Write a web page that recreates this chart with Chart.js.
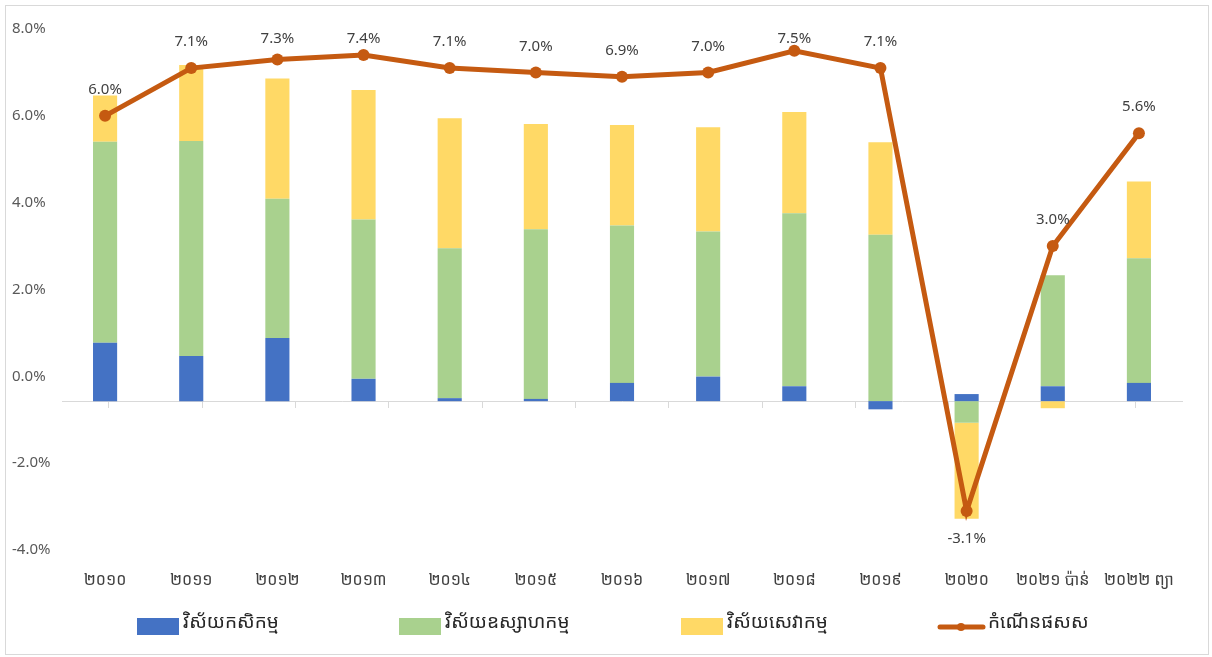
<!DOCTYPE html>
<html>
<head>
<meta charset="utf-8">
<script src="https://cdn.jsdelivr.net/npm/chart.js@4.4.1/dist/chart.umd.min.js"></script>
<style>
  body { margin: 0; background: #fff; }
  #wrap { position: relative; width: 1212px; height: 657px; }
  #frame { position: absolute; left: 5px; top: 5px; width: 1202px; height: 648px; border: 1px solid #d9d9d9; pointer-events: none; }
</style>
</head>
<body>
<div id="wrap">
  <canvas id="myChart" width="1212" height="657"></canvas>
  <div id="frame"></div>
</div>
<script>
const years = ["២០១០", "២០១១", "២០១២", "២០១៣", "២០១៤", "២០១៥", "២០១៦", "២០១៧", "២០១៨", "២០១៩", "២០២០", "២០២១ ប៉ាន់", "២០២២ ព្យា"];

// contribution to growth by sector (percentage points)
const agriculture = [1.57, 1.21, 1.70, 0.60, 0.08, 0.06, 0.49, 0.66, 0.40, -0.22, 0.19, 0.40, 0.49];
const industry    = [5.40, 5.78, 3.74, 4.28, 4.03, 4.56, 4.23, 3.90, 4.65, 4.47, -0.58, 2.98, 3.35];
const services    = [1.24, 2.04, 3.23, 3.48, 3.49, 2.83, 2.70, 2.80, 2.72, 2.49, -2.58, -0.19, 2.06];

// GDP growth
const gdpGrowth = [6.0, 7.1, 7.3, 7.4, 7.1, 7.0, 6.9, 7.0, 7.5, 7.1, -3.1, 3.0, 5.6];

const seriesNames = ["វិស័យកសិកម្ម", "វិស័យឧស្សាហកម្ម", "វិស័យសេវាកម្ម", "កំណើនផសស"];

const khmerFont = "'Khmer OS', 'Noto Sans Khmer', 'Noto Sans', sans-serif";
const textFont = "'Noto Sans', 'Open Sans', sans-serif";

const ctx = document.getElementById("myChart").getContext("2d");

/* labels above the points of the line (kept inside the plot like excel does) */
const pointLabels = {
    id: "pointLabels",
    afterDatasetsDraw(chart) {
        const meta = chart.getDatasetMeta(3);
        const c = chart.ctx;
        c.save();
        c.font = "15px " + textFont;
        c.fillStyle = "#404040";
        c.textAlign = "center";
        c.textBaseline = "middle";
        meta.data.forEach(function(pt, i) {
            const v = gdpGrowth[i];
            let ly = v < 0 ? pt.y + 28 : pt.y - 26;
            ly = Math.max(ly, chart.chartArea.top + 10);
            c.fillText(v.toFixed(1) + "%", pt.x, ly);
        });
        c.restore();
    }
};

/* legend drawn like the excel one */
const excelLegend = {
    id: "excelLegend",
    afterDraw(chart) {
        const c = chart.ctx;
        const xs = [137, 399, 681, 938];
        const y = 627;
        c.save();
        c.font = "19px " + khmerFont;
        c.textBaseline = "middle";
        c.textAlign = "left";
        chart.data.datasets.forEach(function(ds, i) {
            const x = xs[i];
            if (ds.type === "line") {
                c.strokeStyle = ds.borderColor;
                c.lineWidth = 5;
                c.lineCap = "round";
                c.beginPath();
                c.moveTo(x + 2, y);
                c.lineTo(x + 45, y);
                c.stroke();
                c.fillStyle = ds.borderColor;
                c.beginPath();
                c.arc(x + 23, y, 4, 0, Math.PI * 2);
                c.fill();
                c.fillStyle = "#262626";
                c.fillText(ds.label, x + 50, y - 4);
            } else {
                c.fillStyle = ds.backgroundColor;
                c.fillRect(x, y - 9, 42, 17);
                c.fillStyle = "#262626";
                c.fillText(ds.label, x + 46, y - 4);
            }
        });
        c.restore();
    }
};

const myChart = new Chart(ctx, {
    data: {
        labels: years,
        datasets: [
            { type: "bar", label: seriesNames[0], data: agriculture, backgroundColor: "#4472C4", yAxisID: "yb", order: 1 },
            { type: "bar", label: seriesNames[1], data: industry, backgroundColor: "#A9D18E", yAxisID: "yb", order: 1 },
            { type: "bar", label: seriesNames[2], data: services, backgroundColor: "#FFD966", yAxisID: "yb", order: 1 },
            {
                type: "line", label: seriesNames[3], data: gdpGrowth, yAxisID: "y", order: 0,
                borderColor: "#C55A11", backgroundColor: "#C55A11", borderWidth: 5,
                pointRadius: 6, pointBackgroundColor: "#C55A11", pointBorderWidth: 0,
                tension: 0
            }
        ]
    },
    options: {
        responsive: false,
        animation: false,
        layout: { padding: { left: 12, right: 30, top: 29, bottom: 67 } },
        datasets: { bar: { categoryPercentage: 1, barPercentage: 0.28 } },
        plugins: {
            legend: { display: false },
            tooltip: { enabled: false }
        },
        scales: {
            x: {
                stacked: true,
                grid: { display: false, drawTicks: false },
                border: { display: false },
                ticks: { color: "#404040", font: { size: 16, family: khmerFont }, padding: 21, maxRotation: 0, autoSkip: false },
                afterFit(scale) { scale.height = 40; }
            },
            x2: {
                type: "category",
                position: { yb: 0 },
                grid: { offset: true, drawOnChartArea: false, drawTicks: true, tickLength: 6, color: "#d9d9d9" },
                border: { display: true, color: "#d9d9d9", width: 1 },
                ticks: { display: false }
            },
            y: {
                position: "left",
                min: -4, max: 8,
                grid: { display: false },
                border: { display: false },
                ticks: {
                    stepSize: 2, color: "#595959", crossAlign: "far",
                    font: { size: 15, family: textFont },
                    callback: function(v) { return v.toFixed(1) + "%"; }
                },
                afterFit(scale) { scale.width = 50; }
            },
            yb: {
                display: false,
                stacked: true,
                min: -4, max: 10
            }
        }
    },
    plugins: [pointLabels, excelLegend]
});
</script>
</body>
</html>
